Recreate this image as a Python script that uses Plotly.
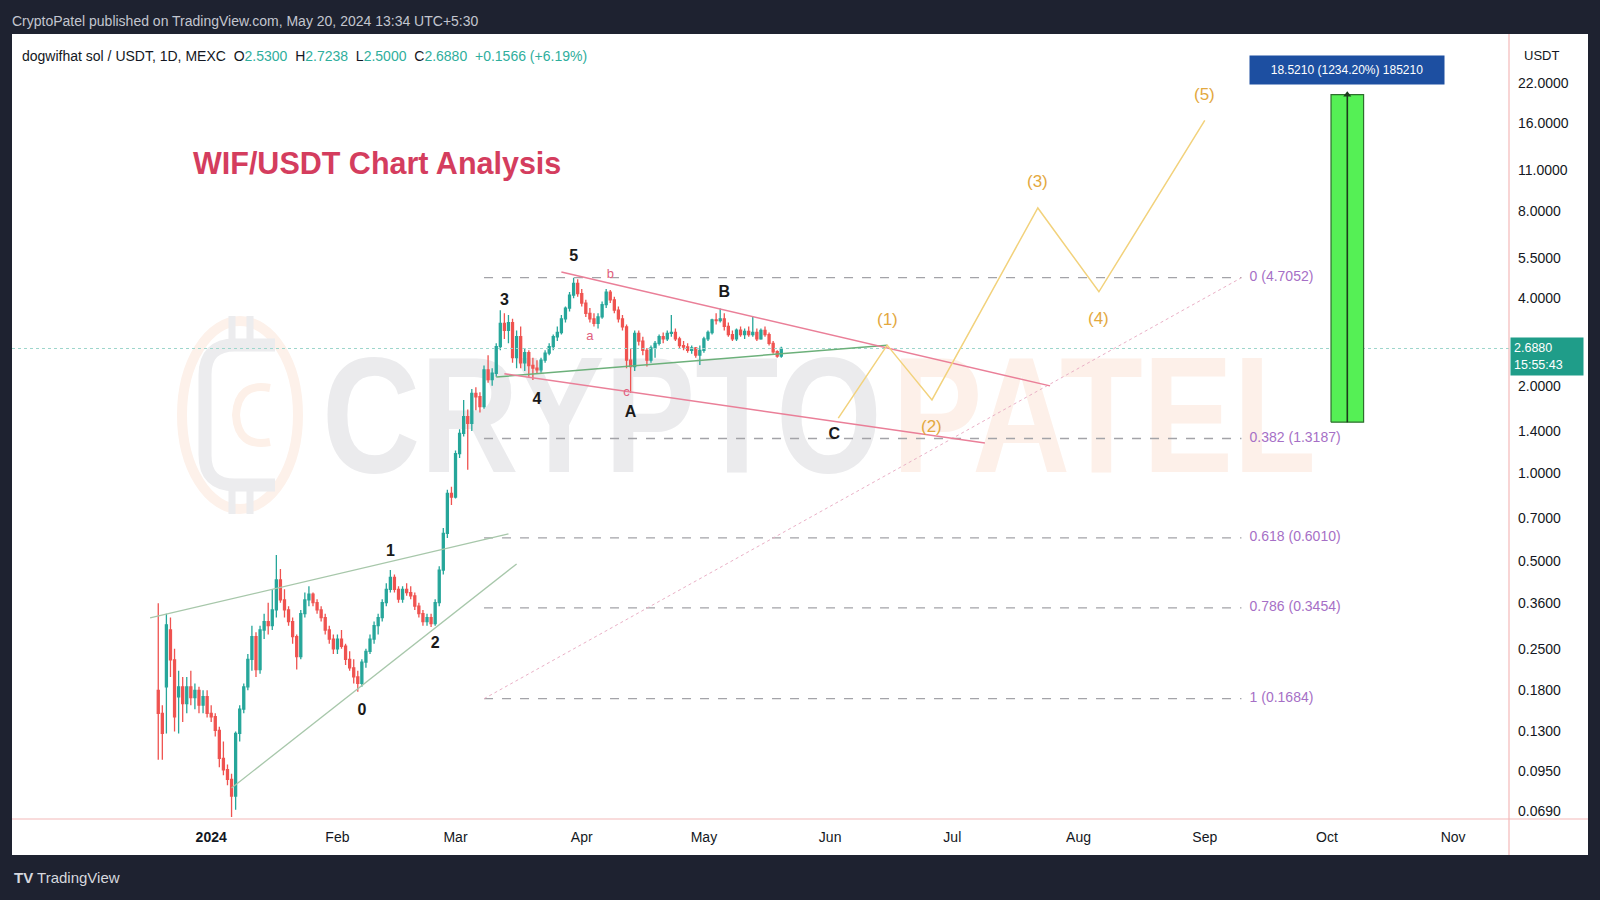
import base64

import numpy as np
import pandas as pd
import plotly.graph_objects as go

# dogwifhat sol / USDT, 1D, MEXC - daily candles Dec 19 2023 .. May 20 2024
first_candle = "2023-12-19"

opens = [
    # Dec
    0.18, 0.15, 0.185, 0.29, 0.229, 0.171, 0.185, 0.162, 0.185, 0.17, 0.18, 0.16, 0.171,
    # Jan
    0.150, 0.146, 0.131, 0.105, 0.096, 0.089, 0.078, 0.128, 0.155, 0.185, 0.23, 0.275, 0.212,
    0.29, 0.31, 0.30, 0.34, 0.431, 0.368, 0.34, 0.31, 0.275, 0.235, 0.33, 0.368, 0.385, 0.36,
    0.34, 0.32, 0.29, 0.27,
    # Feb
    0.25, 0.27, 0.255, 0.23, 0.215, 0.20, 0.19, 0.225, 0.245, 0.27, 0.30, 0.32, 0.36, 0.40,
    0.44, 0.40, 0.37, 0.40, 0.39, 0.38, 0.35, 0.33, 0.31, 0.32, 0.305, 0.36, 0.466, 0.623, 0.855,
    # Mar
    0.83, 1.17, 1.374, 1.567, 1.487, 1.886, 1.835, 1.696, 2.27, 2.10, 2.21, 2.726, 3.28, 3.10,
    3.30, 2.50, 2.95, 2.40, 2.60, 2.35, 2.30, 2.27, 2.45, 2.59, 2.73, 2.95, 3.05, 3.40, 3.70,
    4.10, 4.50,
    # Apr
    4.15, 3.85, 3.55, 3.40, 3.28, 3.45, 3.80, 4.20, 3.95, 3.64, 3.40, 3.19, 2.45, 2.33, 3.03,
    2.85, 2.65, 2.45, 2.70, 2.80, 2.95, 2.90, 3.03, 3.05, 2.90, 2.75, 2.72, 2.65, 2.70, 2.55,
    # May
    2.65, 2.90, 3.05, 3.37, 3.35, 3.40, 3.20, 3.00, 2.90, 3.11, 3.00, 3.08, 3.00, 3.05, 2.90,
    3.10, 3.00, 2.80, 2.62, 2.53,
]
highs = [
    # Dec
    0.358, 0.16, 0.33, 0.32, 0.25, 0.21, 0.20, 0.20, 0.21, 0.19, 0.185, 0.18, 0.18,
    # Jan
    0.16, 0.15, 0.135, 0.12, 0.10, 0.093, 0.13, 0.16, 0.19, 0.24, 0.30, 0.285, 0.30,
    0.33, 0.36, 0.40, 0.525, 0.47, 0.40, 0.35, 0.32, 0.28, 0.34, 0.39, 0.41, 0.39,
    0.37, 0.35, 0.33, 0.30, 0.28,
    # Feb
    0.28, 0.29, 0.26, 0.245, 0.23, 0.21, 0.23, 0.25, 0.28, 0.31, 0.33, 0.37, 0.42, 0.466,
    0.45, 0.41, 0.41, 0.42, 0.41, 0.39, 0.36, 0.34, 0.33, 0.33, 0.37, 0.48, 0.65, 0.88, 0.90,
    # Mar
    1.20, 1.42, 1.79, 1.66, 1.95, 1.98, 1.90, 2.35, 2.55, 2.30, 2.80, 3.64, 3.55, 3.50,
    3.40, 3.10, 3.20, 2.70, 2.65, 2.50, 2.45, 2.50, 2.65, 2.80, 3.00, 3.20, 3.50, 3.75, 4.20,
    4.7052, 4.65,
    # Apr
    4.30, 3.95, 3.70, 3.55, 3.55, 3.90, 4.30, 4.27, 4.05, 3.75, 3.50, 3.25, 2.70, 3.10, 3.10,
    2.95, 2.70, 2.75, 2.85, 3.00, 3.05, 3.10, 3.50, 3.15, 2.95, 2.85, 2.80, 2.75, 2.72, 2.75,
    # May
    2.95, 3.10, 3.40, 3.55, 3.69, 3.55, 3.30, 3.10, 3.15, 3.20, 3.15, 3.20, 3.45, 3.15, 3.15,
    3.20, 3.05, 2.85, 2.65, 2.7238,
]
lows = [
    # Dec
    0.104, 0.104, 0.128, 0.20, 0.13, 0.128, 0.14, 0.15, 0.16, 0.155, 0.15, 0.15, 0.145,
    # Jan
    0.14, 0.125, 0.098, 0.092, 0.085, 0.066, 0.070, 0.12, 0.15, 0.18, 0.21, 0.20, 0.205,
    0.27, 0.28, 0.29, 0.32, 0.36, 0.32, 0.30, 0.26, 0.212, 0.23, 0.32, 0.35, 0.35,
    0.33, 0.31, 0.28, 0.26, 0.24,
    # Feb
    0.24, 0.25, 0.22, 0.21, 0.19, 0.178, 0.185, 0.215, 0.24, 0.26, 0.28, 0.31, 0.35, 0.39,
    0.39, 0.36, 0.36, 0.38, 0.37, 0.34, 0.32, 0.30, 0.30, 0.297, 0.30, 0.35, 0.45, 0.60, 0.78,
    # Mar
    0.82, 1.13, 1.34, 1.03, 1.40, 1.65, 1.62, 1.67, 2.05, 2.00, 2.15, 2.65, 2.90, 2.80,
    2.40, 2.30, 2.30, 2.25, 2.15, 2.095, 2.20, 2.22, 2.40, 2.55, 2.65, 2.85, 3.00, 3.30, 3.60,
    4.00, 4.05,
    # Apr
    3.75, 3.45, 3.30, 3.20, 3.15, 3.40, 3.70, 3.85, 3.55, 3.30, 3.10, 2.30, 1.89, 2.25, 2.75,
    2.55, 2.33, 2.40, 2.50, 2.75, 2.80, 2.85, 2.95, 2.85, 2.70, 2.65, 2.60, 2.58, 2.50, 2.36,
    # May
    2.60, 2.85, 3.00, 3.25, 3.30, 3.10, 2.95, 2.85, 2.85, 2.95, 2.90, 2.95, 2.95, 2.85, 2.88,
    2.95, 2.75, 2.58, 2.50, 2.50,
]
closes = [
    # Dec
    0.15, 0.128, 0.302, 0.229, 0.146, 0.185, 0.162, 0.185, 0.17, 0.18, 0.16, 0.171, 0.150,
    # Jan
    0.146, 0.131, 0.105, 0.096, 0.089, 0.078, 0.128, 0.155, 0.185, 0.23, 0.275, 0.212, 0.29,
    0.31, 0.30, 0.34, 0.431, 0.368, 0.34, 0.31, 0.275, 0.235, 0.33, 0.368, 0.385, 0.36,
    0.34, 0.32, 0.29, 0.27, 0.25,
    # Feb
    0.27, 0.255, 0.23, 0.215, 0.20, 0.19, 0.225, 0.245, 0.27, 0.30, 0.32, 0.36, 0.40, 0.44,
    0.40, 0.37, 0.40, 0.39, 0.38, 0.35, 0.33, 0.31, 0.32, 0.305, 0.36, 0.466, 0.623, 0.855, 0.83,
    # Mar
    1.17, 1.374, 1.567, 1.487, 1.886, 1.835, 1.696, 2.27, 2.10, 2.21, 2.726, 3.28, 3.10, 3.30,
    2.50, 2.95, 2.40, 2.60, 2.35, 2.30, 2.27, 2.45, 2.59, 2.73, 2.95, 3.05, 3.40, 3.70, 4.10,
    4.50, 4.15,
    # Apr
    3.85, 3.55, 3.40, 3.28, 3.45, 3.80, 4.20, 3.95, 3.64, 3.40, 3.19, 2.45, 2.33, 3.03, 2.85,
    2.65, 2.45, 2.70, 2.80, 2.95, 2.90, 3.03, 3.05, 2.90, 2.75, 2.72, 2.65, 2.70, 2.55, 2.65,
    # May
    2.90, 3.05, 3.37, 3.35, 3.40, 3.20, 3.00, 2.90, 3.11, 3.00, 3.08, 3.00, 3.05, 2.90, 3.10,
    3.00, 2.80, 2.62, 2.5314, 2.688,
]
countdown = "15:55:43"

# fib retracement (Mar 8 -> Sep 10)
fib_names = ["0", "0.382", "0.618", "0.786", "1"]
fib_prices = [4.7052, 1.3187, 0.6010, 0.3454, 0.1684]
fib_dates = ["2024-03-08", "2024-09-10"]
fib_label_date = "2024-09-12"

# elliott wave labels on the price history
wave_names = ["0", "1", "2", "3", "4", "5", "A", "B", "C"]
wave_dates = ["2024-02-07", "2024-02-14", "2024-02-25", "2024-03-13", "2024-03-21",
              "2024-03-30", "2024-04-13", "2024-05-06", "2024-06-02"]
wave_prices = [0.153, 0.537, 0.26, 3.91, 1.79, 5.54, 1.61, 4.17, 1.356]
sub_names = ["a", "b", "c"]
sub_dates = ["2024-04-03", "2024-04-08", "2024-04-12"]
sub_prices = [2.94, 4.81, 1.89]

# projected impulse (1)-(5) starting from C
proj_names = ["", "(1)", "(2)", "(3)", "(4)", "(5)"]
proj_dates = ["2024-06-03", "2024-06-15", "2024-06-26", "2024-07-22", "2024-08-06", "2024-09-01"]
proj_prices = [1.55, 2.76, 1.79, 8.17, 4.21, 16.33]

# trendlines
wedge_top_dates, wedge_top_prices = ["2023-12-17", "2024-03-14"], [0.319, 0.62]
wedge_bot_dates, wedge_bot_prices = ["2024-01-06", "2024-03-16"], [0.0831, 0.489]
support_dates, support_prices = ["2024-03-11", "2024-06-15"], [2.145, 2.76]
tri_top_dates, tri_top_prices = ["2024-03-27", "2024-07-25"], [4.92, 2.0]
tri_bot_dates, tri_bot_prices = ["2024-03-13", "2024-07-09"], [2.20, 1.273]

# price range measure
measure_dates = ["2024-10-02", "2024-10-10"]
measure_mid = "2024-10-06"
measure_low, measure_high = 1.50065, 20.02165

# axes
x_range = ["2023-11-13 02:00", "2024-11-14 17:00"]
month_ticks = ["2024-01-01", "2024-02-01", "2024-03-01", "2024-04-01", "2024-05-01", "2024-06-01",
               "2024-07-01", "2024-08-01", "2024-09-01", "2024-10-01", "2024-11-01"]
month_labels = ["<b>2024</b>", "Feb", "Mar", "Apr", "May", "Jun", "Jul", "Aug", "Sep", "Oct", "Nov"]
price_ticks = [22, 16, 11, 8, 5.5, 4, 2, 1.4, 1, 0.7, 0.5, 0.36, 0.25, 0.18, 0.13, 0.095, 0.069]

FONT = "Liberation Sans, Arial, sans-serif"
DARK = "#1e2230"
UP, DOWN = "#26a69a", "#ef5350"

# plot area in pixels: x 12..1509, y 34..819
L, R, T, B = 12, 1509, 34, 819


def px(x):
    return (x - L) / (R - L)


def py(y):
    return (B - y) / (B - T)


days = pd.date_range(first_candle, periods=len(closes), freq="D")
fig = go.Figure()


def line(xs, ys, color, width=1.4, dash="solid"):
    fig.add_trace(go.Scatter(x=xs, y=ys, mode="lines", line=dict(color=color, width=width, dash=dash),
                             showlegend=False, hoverinfo="skip"))


# fib levels + diagonal
for p in fib_prices:
    line(fib_dates, [p, p], "#a3a3a8", 1.3, "dash")
line(fib_dates, [fib_prices[-1], fib_prices[0]], "#eab0c6", 1, "dot")
fig.add_trace(go.Scatter(
    x=[fib_label_date] * len(fib_prices), y=fib_prices, mode="text",
    text=[f"{n} ({p:.4f})" for n, p in zip(fib_names, fib_prices)],
    textposition="middle right", textfont=dict(family=FONT, size=14, color="#a66fc6"),
    showlegend=False, hoverinfo="skip"))

# last price line
line(x_range, [closes[-1], closes[-1]], "#9dd6cc", 1, "dot")

fig.add_trace(go.Candlestick(
    x=days, open=opens, high=highs, low=lows, close=closes,
    increasing=dict(line=dict(color=UP, width=1.3), fillcolor=UP),
    decreasing=dict(line=dict(color=DOWN, width=1.3), fillcolor=DOWN),
    whiskerwidth=0, showlegend=False, hoverinfo="skip"))

# trendlines
line(wedge_top_dates, wedge_top_prices, "#a7c7aa", 1.3)
line(wedge_bot_dates, wedge_bot_prices, "#a7c7aa", 1.3)
line(support_dates, support_prices, "#6cb07a", 1.5)
line(tri_top_dates, tri_top_prices, "#ea7f98", 1.5)
line(tri_bot_dates, tri_bot_prices, "#ea7f98", 1.5)
line(proj_dates, proj_prices, "#f2d27c", 1.5)

# measure box
d0, d1 = measure_dates
fig.add_trace(go.Scatter(
    x=[d0, d1, d1, d0, d0], y=[measure_low, measure_low, measure_high, measure_high, measure_low],
    mode="lines", fill="toself", fillcolor="#55f055", line=dict(color="#2e6e2e", width=1.2),
    showlegend=False, hoverinfo="skip"))
line([measure_mid, measure_mid], [measure_low, measure_high], "#1d3a1d", 1.6)
fig.add_trace(go.Scatter(x=[measure_mid], y=[measure_high], mode="markers",
                         marker=dict(symbol="triangle-up", size=7, color="#1d3a1d"),
                         showlegend=False, hoverinfo="skip"))

# wave labels
fig.add_trace(go.Scatter(
    x=wave_dates, y=wave_prices, mode="text", text=[f"<b>{n}</b>" for n in wave_names],
    textfont=dict(family=FONT, size=16, color="#1a1a1a"), showlegend=False, hoverinfo="skip"))
fig.add_trace(go.Scatter(
    x=sub_dates, y=sub_prices, mode="text", text=sub_names,
    textfont=dict(family=FONT, size=13, color="#e0607e"), showlegend=False, hoverinfo="skip"))

annotations = []
for i, (n, d, p) in enumerate(zip(proj_names, proj_dates, proj_prices)):
    if not n:
        continue
    annotations.append(dict(x=d, y=np.log10(p), xref="x", yref="y", text=n, showarrow=False,
                            yshift=26 if i % 2 else -27,
                            font=dict(family=FONT, size=17, color="#e3a83e")))

diff = measure_high - measure_low
annotations.append(dict(
    x=measure_mid, y=np.log10(measure_high), xref="x", yref="y", yshift=25, showarrow=False,
    text=f"{diff:.4f} ({diff / measure_low * 100:.2f}%) {round(diff * 10000)}",
    bgcolor="#1d4fa1", borderpad=3, width=188, height=22,
    font=dict(family=FONT, size=12, color="white")))

# last price tag on the axis
annotations.append(dict(
    x=px(1510), xref="paper", xanchor="left", y=np.log10(closes[-1]), yref="y", yshift=-8,
    text=f"{closes[-1]:.4f}<br>{countdown}", align="left", showarrow=False,
    bgcolor="#1f9d89", borderpad=3, width=66, height=31,
    font=dict(family=FONT, size=12.5, color="white")))

chg = closes[-1] - closes[-2]
teal = "#2fae9c"
gap = "\u00a0\u00a0"
header = (f"dogwifhat sol / USDT, 1D, MEXC{gap}"
          f"O<span style='color:{teal}'>{opens[-1]:.4f}</span>{gap}"
          f"H<span style='color:{teal}'>{highs[-1]:.4f}</span>{gap}"
          f"L<span style='color:{teal}'>{lows[-1]:.4f}</span>{gap}"
          f"C<span style='color:{teal}'>{closes[-1]:.4f}</span>{gap}"
          f"<span style='color:{teal}'>{chg:+.4f} ({chg / closes[-2] * 100:+.2f}%)</span>")

annotations += [
    dict(x=px(20), y=py(56), xref="paper", yref="paper", xanchor="left", yanchor="middle",
         text=header, showarrow=False, font=dict(family=FONT, size=14, color="#131722")),
    dict(x=px(191), y=py(164), xref="paper", yref="paper", xanchor="left", yanchor="middle",
         text="<b>WIF/USDT Chart Analysis</b>", showarrow=False,
         font=dict(family=FONT, size=30.5, color="#d43d5e")),
    dict(x=px(1541), y=py(55), xref="paper", yref="paper", xanchor="center", yanchor="middle",
         text="USDT", showarrow=False, font=dict(family=FONT, size=13, color="#131722")),
    dict(x=px(10), y=py(21), xref="paper", yref="paper", xanchor="left", yanchor="middle",
         text="CryptoPatel published on TradingView.com, May 20, 2024 13:34 UTC+5:30",
         showarrow=False, font=dict(family=FONT, size=14, color="#c3c6cf")),
    dict(x=px(12), y=py(877), xref="paper", yref="paper", xanchor="left", yanchor="middle",
         text="<b>TV</b> TradingView", showarrow=False,
         font=dict(family=FONT, size=15, color="#d6d8de")),
]

# watermark (drawn under the candles)
svg = """<svg xmlns='http://www.w3.org/2000/svg' width='1150' height='230' viewBox='0 0 1150 230' preserveAspectRatio='none'>
<ellipse cx='70' cy='115' rx='58' ry='94' fill='none' stroke='#fdf1ea' stroke-width='10'/>
<path d='M105 45 L65 45 Q35 45 35 75 L35 155 Q35 185 65 185 L105 185' fill='none' stroke='#ececee' stroke-width='13'/>
<path d='M62 16 V45 M80 16 V45 M62 185 V214 M80 185 V214' stroke='#ececee' stroke-width='7'/>
<path d='M100 88 Q68 82 66 115 Q68 148 100 142' fill='none' stroke='#fdf0e8' stroke-width='8'/>
<text x='152' y='172' font-family='Liberation Sans, Arial, sans-serif' font-weight='bold' font-size='165' textLength='560' lengthAdjust='spacingAndGlyphs' fill='#ebebed'>CRYPTO</text>
<text x='722' y='172' font-family='Liberation Sans, Arial, sans-serif' font-weight='bold' font-size='165' textLength='424' lengthAdjust='spacingAndGlyphs' fill='#fdf0e9'>PATEL</text>
</svg>"""
watermark = "data:image/svg+xml;base64," + base64.b64encode(svg.encode()).decode()

frame = dict(type="rect", xref="paper", yref="paper", fillcolor=DARK, line=dict(width=0), layer="above")
edge = dict(type="line", xref="paper", yref="paper", line=dict(color="#f3b9b9", width=1.2), layer="above")
shapes = [
    dict(frame, x0=px(0), x1=px(1600), y0=py(34), y1=py(0)),
    dict(frame, x0=px(0), x1=px(1600), y0=py(900), y1=py(855)),
    dict(frame, x0=px(0), x1=px(12), y0=py(900), y1=py(0)),
    dict(frame, x0=px(1588), x1=px(1600), y0=py(900), y1=py(0)),
    dict(edge, x0=px(12), x1=px(1588), y0=py(819), y1=py(819)),
    dict(edge, x0=px(1509), x1=px(1509), y0=py(34), y1=py(855)),
]

fig.update_layout(
    width=1600, height=900,
    margin=dict(l=L, r=1600 - R, t=T, b=900 - B),
    paper_bgcolor="white", plot_bgcolor="rgba(0,0,0,0)",
    showlegend=False,
    annotations=annotations,
    shapes=shapes,
    images=[dict(source=watermark, xref="paper", yref="paper", x=px(170), y=py(300),
                 sizex=1150 / (R - L), sizey=230 / (B - T), xanchor="left", yanchor="top",
                 sizing="stretch", layer="below")],
    xaxis=dict(type="date", range=x_range, tickvals=month_ticks, ticktext=month_labels,
               showgrid=False, zeroline=False, showline=False, ticks="",
               tickfont=dict(family=FONT, size=14, color="#131722"), ticklabelstandoff=8,
               rangeslider=dict(visible=False)),
    yaxis=dict(type="log", range=[-1.1869, 1.5098], side="right", tickvals=price_ticks,
               ticktext=[f"{v:.4f}" for v in price_ticks], showgrid=False, zeroline=False,
               showline=False, ticks="", tickfont=dict(family=FONT, size=14, color="#131722"),
               ticklabelstandoff=8),
)

fig.write_html("out.html", config={"displayModeBar": False},
               post_script="document.body.style.margin='0';")
